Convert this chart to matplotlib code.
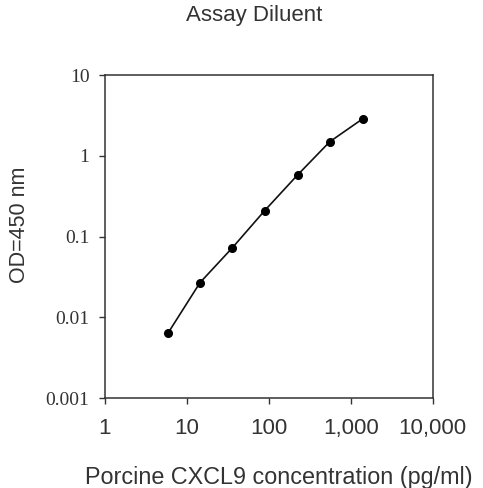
import matplotlib.pyplot as plt
from matplotlib.ticker import FixedLocator, NullLocator

# Data
concentration = [5.9, 14.5, 36, 89, 224, 555, 1410]
od450 = [0.0064, 0.027, 0.073, 0.21, 0.58, 1.5, 2.9]

x_ticks = [1, 10, 100, 1000, 10000]
x_tick_labels = ['1', '10', '100', '1,000', '10,000']
y_ticks = [0.001, 0.01, 0.1, 1, 10]
y_tick_labels = ['0.001', '0.01', '0.1', '1', '10']

text_color = '#333333'
sans = ['Liberation Sans', 'DejaVu Sans']
serif = ['Liberation Serif', 'DejaVu Serif']

fig = plt.figure(figsize=(4.83, 4.88), dpi=100)
ax = fig.add_axes([0.217, 0.184, 0.679, 0.662])

ax.plot(concentration, od450, color='#111111', linewidth=1.2,
        marker='o', markersize=5.5, markerfacecolor='black', markeredgecolor='black')

ax.set_xscale('log')
ax.set_yscale('log')
ax.set_xlim(1, 10000)
ax.set_ylim(0.001, 10)

ax.xaxis.set_major_locator(FixedLocator(x_ticks))
ax.xaxis.set_minor_locator(NullLocator())
ax.yaxis.set_major_locator(FixedLocator(y_ticks))
ax.yaxis.set_minor_locator(NullLocator())
ax.set_xticklabels(x_tick_labels, family=sans, fontsize=16, color=text_color)
ax.set_yticklabels(y_tick_labels, family=serif, fontsize=14, color=text_color)
ax.tick_params(direction='out', length=4, width=1, colors='#333333')
ax.tick_params(axis='x', pad=10, labelcolor=text_color)
ax.tick_params(axis='y', pad=7, labelcolor=text_color)

for s in ax.spines.values():
    s.set_linewidth(1.1)
    s.set_color('#333333')

ax.set_xlabel('Porcine CXCL9 concentration (pg/ml)', family=sans, fontsize=16.8,
              color=text_color, va='center')
ax.xaxis.set_label_coords(0.53, -0.245)
ax.set_ylabel('OD=450 nm', family=sans, fontsize=15.5, color=text_color, va='center')
ax.yaxis.set_label_coords(-0.259, 0.536)
fig.text(0.526, 0.969, 'Assay Diluent', family=sans, fontsize=16, color=text_color,
         ha='center', va='center')

plt.savefig('out.png', dpi=100)
